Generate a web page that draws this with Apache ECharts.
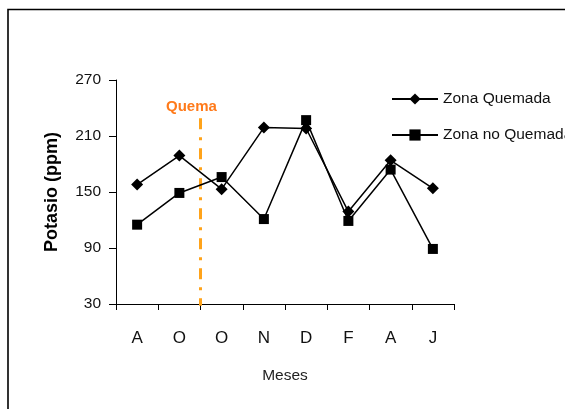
<!DOCTYPE html>
<html>
<head>
<meta charset="utf-8">
<script src="https://cdn.jsdelivr.net/npm/echarts@6/dist/echarts.min.js"></script>
<style>
  html, body { margin: 0; padding: 0; background: #fff; }
  #chart { width: 565px; height: 409px; }
</style>
</head>
<body>
<div id="chart"></div>
<script>
// Months of sampling
const months = ['A', 'O', 'O', 'N', 'D', 'F', 'A', 'J'];
// Potassium (ppm) per zone
const burned = [158, 189, 153, 219, 218, 129, 184, 154];
const unburned = [115, 149, 166, 121, 227, 119, 174, 89];
// Y axis ticks
const yMin = 30, yMax = 270, yStep = 60;
// Burn event position (between the 2nd and 3rd month) and its label
const burnX = 2;
const burnTop = 229;
const burnLabel = 'Quema';

const FONT = '"Liberation Sans", Arial, sans-serif';

const chart = echarts.init(document.getElementById('chart'), null, { renderer: 'canvas' });

chart.setOption({
  animation: false,
  backgroundColor: '#ffffff',
  grid: { left: 116, right: 111, top: 80, bottom: 105, containLabel: false },
  legend: {
    orient: 'vertical',
    left: 386,
    top: 86,
    itemWidth: 46,
    itemHeight: 14,
    itemGap: 20,
    data: ['Zona Quemada', 'Zona no Quemada'],
    textStyle: { fontFamily: FONT, fontSize: 15.5, color: '#111' }
  },
  xAxis: [
    {
      type: 'category',
      data: months,
      boundaryGap: true,
      name: 'Meses',
      nameLocation: 'middle',
      nameGap: 64,
      nameTextStyle: { fontFamily: FONT, fontSize: 15.5, color: '#222' },
      axisLine: { lineStyle: { color: '#000', width: 1 } },
      axisTick: { show: true, length: 6, alignWithLabel: false, lineStyle: { color: '#000' } },
      axisLabel: { fontFamily: FONT, fontSize: 17, color: '#111', margin: 26 },
      splitLine: { show: false }
    },
    {
      type: 'value',
      min: 0,
      max: months.length,
      show: false
    }
  ],
  yAxis: {
    type: 'value',
    min: yMin,
    max: yMax,
    interval: yStep,
    name: 'Potasio (ppm)',
    nameLocation: 'middle',
    nameGap: 55,
    nameRotate: 90,
    nameTextStyle: { fontFamily: FONT, fontSize: 18, fontWeight: 'bold', color: '#000' },
    axisLine: { show: true, lineStyle: { color: '#000', width: 1 } },
    axisTick: { show: true, length: 7, inside: false, lineStyle: { color: '#000' } },
    axisLabel: { fontFamily: FONT, fontSize: 15.5, color: '#111', margin: 15 },
    splitLine: { show: false }
  },
  series: [
    {
      name: 'Zona Quemada',
      type: 'line',
      data: burned,
      symbol: 'diamond',
      symbolSize: 12,
      itemStyle: { color: '#000' },
      lineStyle: { color: '#000', width: 1.5 },
      z: 3
    },
    {
      name: 'Zona no Quemada',
      type: 'line',
      data: unburned,
      symbol: 'rect',
      symbolSize: 10,
      itemStyle: { color: '#000' },
      lineStyle: { color: '#000', width: 1.5 },
      z: 3
    },
    {
      name: 'burn',
      type: 'line',
      xAxisIndex: 1,
      data: [[burnX, burnTop], [burnX, 28]],
      symbol: 'none',
      clip: false,
      silent: true,
      lineStyle: { color: '#FFA31A', width: 3, type: [11, 8, 3, 8] },
      z: 2
    }
  ],
  graphic: [
    {
      type: 'rect',
      shape: { x: 8, y: 9.5, width: 700, height: 500 },
      style: { fill: 'none', stroke: '#000', lineWidth: 1.6 },
      silent: true
    },
    {
      type: 'text',
      left: 166,
      top: 99,
      style: { text: burnLabel, fontFamily: FONT, fontSize: 15, fontWeight: 'bold', fill: '#FF7A1A' }
    }
  ]
});
</script>
</body>
</html>
